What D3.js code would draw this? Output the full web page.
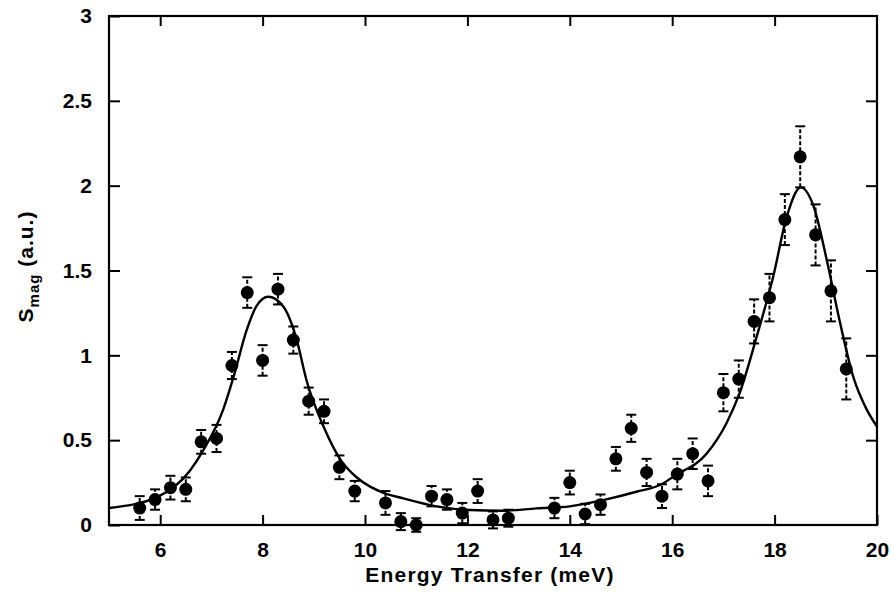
<!DOCTYPE html>
<html>
<head>
<meta charset="utf-8">
<script src="https://cdn.jsdelivr.net/npm/d3@7"></script>
<style>
    body { margin: 0; background: #fff; }
    svg text { font-family: "Liberation Sans", Arial, Helvetica, sans-serif; font-weight: bold; fill: #000; }
</style>
</head>
<body>
<div id="chart"></div>
<script>
// measured points (energy in meV, S_mag in a.u., error)
const energy = [5.6, 5.9, 6.2, 6.5, 6.8, 7.1, 7.4, 7.7, 8.0, 8.3, 8.6, 8.9, 9.2, 9.5, 9.8,
    10.4, 10.7, 11.0, 11.3, 11.6, 11.9, 12.2, 12.5, 12.8, 13.7, 14.0, 14.3, 14.6, 14.9, 15.2,
    15.5, 15.8, 16.1, 16.4, 16.7, 17.0, 17.3, 17.6, 17.9, 18.2, 18.5, 18.8, 19.1, 19.4];
const smag = [0.10, 0.15, 0.22, 0.21, 0.49, 0.51, 0.94, 1.37, 0.97, 1.39, 1.09, 0.73, 0.67, 0.34, 0.20,
    0.13, 0.02, 0.00, 0.17, 0.15, 0.07, 0.20, 0.03, 0.04, 0.10, 0.25, 0.065, 0.12, 0.39, 0.57,
    0.31, 0.17, 0.30, 0.42, 0.26, 0.78, 0.86, 1.20, 1.34, 1.80, 2.17, 1.71, 1.38, 0.92];
const smagErr = [0.07, 0.06, 0.07, 0.07, 0.07, 0.08, 0.08, 0.09, 0.09, 0.09, 0.08, 0.08, 0.07, 0.07, 0.06,
    0.07, 0.05, 0.04, 0.06, 0.06, 0.06, 0.07, 0.05, 0.05, 0.06, 0.07, 0.06, 0.06, 0.07, 0.08,
    0.08, 0.07, 0.09, 0.09, 0.09, 0.11, 0.11, 0.13, 0.14, 0.15, 0.18, 0.18, 0.18, 0.18];

// fit curve
const fitE = [5.0, 5.93, 6.58, 6.84, 7.23, 7.43, 7.69, 7.88, 8.11, 8.40, 8.65, 8.86, 9.19, 9.51, 9.84,
    10.1, 10.36, 10.75, 11.4, 12.05, 12.7, 13.35, 14.0, 14.65, 15.3, 15.83, 16.02, 16.67, 17.06,
    17.32, 17.65, 17.97, 18.24, 18.51, 18.76, 19.02, 19.28, 19.54, 19.80, 20.0];
const fitS = [0.10, 0.163, 0.32, 0.44, 0.68, 0.87, 1.15, 1.29, 1.345, 1.29, 1.11, 0.85, 0.58, 0.39, 0.28,
    0.226, 0.19, 0.157, 0.11, 0.088, 0.084, 0.098, 0.11, 0.147, 0.196, 0.246, 0.285, 0.42, 0.60,
    0.78, 1.11, 1.46, 1.82, 1.99, 1.88, 1.56, 1.19, 0.87, 0.68, 0.58];

const xTicks = [6, 8, 10, 12, 14, 16, 18, 20];
const yTicks = [0, 0.5, 1, 1.5, 2, 2.5, 3];

const margin = {top: 16, right: 16, bottom: 77, left: 109};
const width = 893 - margin.left - margin.right;
const height = 602 - margin.top - margin.bottom;

const svg = d3.select("#chart").append("svg")
    .attr("width", 893)
    .attr("height", 602);

const g = svg.append("g")
    .attr("transform", `translate(${margin.left},${margin.top})`);

const x = d3.scaleLinear().domain([5, 20]).range([0, width]);
const y = d3.scaleLinear().domain([0, 3]).range([height, 0]);

// axes, ticks point inward
const styleAxis = sel => {
    sel.select(".domain").remove();
    sel.selectAll(".tick line").attr("stroke", "#000").attr("stroke-width", 2);
    sel.selectAll(".tick text").style("font-size", "21px");
};

g.append("g")
    .attr("transform", `translate(0,${height})`)
    .call(d3.axisBottom(x).tickValues(xTicks).tickSizeInner(-10).tickSizeOuter(0).tickPadding(17).tickFormat(d3.format("d")))
    .call(styleAxis);

g.append("g")
    .call(d3.axisTop(x).tickValues(xTicks.slice(0, -1)).tickSizeInner(-10).tickSizeOuter(0).tickFormat(""))
    .call(styleAxis);

g.append("g")
    .call(d3.axisLeft(y).tickValues(yTicks).tickSizeInner(-11).tickSizeOuter(0).tickPadding(17).tickFormat(d => d))
    .call(styleAxis);

g.append("g")
    .attr("transform", `translate(${width},0)`)
    .call(d3.axisRight(y).tickValues(yTicks.slice(1, -1)).tickSizeInner(-11).tickSizeOuter(0).tickFormat(""))
    .call(styleAxis);

g.selectAll("g.tick text").attr("fill", "#000");

// frame
g.append("rect")
    .attr("width", width)
    .attr("height", height)
    .attr("fill", "none")
    .attr("stroke", "#000")
    .attr("stroke-width", 2.2);

// fit line
const line = d3.line()
    .x((d, i) => x(fitE[i]))
    .y((d, i) => y(fitS[i]))
    .curve(d3.curveMonotoneX);

g.append("path")
    .datum(fitE)
    .attr("d", line)
    .attr("fill", "none")
    .attr("stroke", "#000")
    .attr("stroke-width", 2.4);

// error bars
const points = energy.map((e, i) => ({e: e, s: smag[i], err: smagErr[i]}));
const capW = 5;

const bars = g.selectAll(".err")
    .data(points)
    .enter().append("g")
    .attr("class", "err")
    .attr("stroke", "#000")
    .attr("stroke-width", 2);

bars.append("line")
    .attr("x1", d => x(d.e))
    .attr("x2", d => x(d.e))
    .attr("y1", d => y(d.s - d.err))
    .attr("y2", d => y(d.s + d.err))
    .attr("stroke-dasharray", "4,2");

bars.append("line")
    .attr("x1", d => x(d.e) - capW)
    .attr("x2", d => x(d.e) + capW)
    .attr("y1", d => y(d.s + d.err))
    .attr("y2", d => y(d.s + d.err));

bars.append("line")
    .attr("x1", d => x(d.e) - capW)
    .attr("x2", d => x(d.e) + capW)
    .attr("y1", d => y(d.s - d.err))
    .attr("y2", d => y(d.s - d.err));

// data points
g.selectAll(".dot")
    .data(points)
    .enter().append("circle")
    .attr("class", "dot")
    .attr("cx", d => x(d.e))
    .attr("cy", d => y(d.s))
    .attr("r", 6.5)
    .attr("fill", "#000");

// axis labels
svg.append("text")
    .attr("x", margin.left + width / 2 - 3)
    .attr("y", 582)
    .attr("text-anchor", "middle")
    .style("font-size", "21px")
    .style("letter-spacing", "1.2px")
    .text("Energy Transfer (meV)");

const yLabel = svg.append("text")
    .attr("transform", `translate(33,${margin.top + height / 2 - 4}) rotate(-90)`)
    .attr("text-anchor", "middle")
    .style("font-size", "21px")
    .style("letter-spacing", "1px");
yLabel.append("tspan").text("S");
yLabel.append("tspan").attr("dy", 6).style("font-size", "15px").text("mag");
yLabel.append("tspan").attr("dy", -6).text(" (a.u.)");
</script>
</body>
</html>
